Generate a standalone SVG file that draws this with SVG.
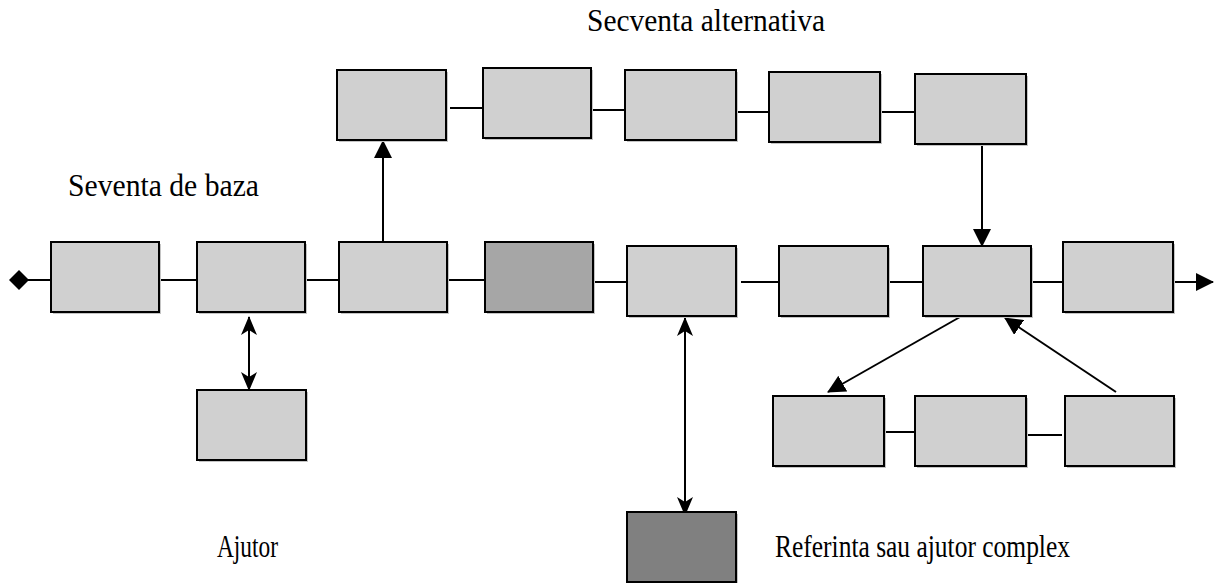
<svg xmlns="http://www.w3.org/2000/svg" width="1214" height="583" viewBox="0 0 1214 583">
<style>
.b{fill:#d0d0d0;stroke:#000;stroke-width:2}
.d1{fill:#a6a6a6;stroke:#000;stroke-width:2}
.d2{fill:#808080;stroke:#000;stroke-width:2}
.sh{fill:#c4c4c4}
.c{stroke:#000;stroke-width:2;fill:none}
.t{font-family:"Liberation Serif","Times New Roman",serif;font-size:31px;fill:#000}
</style>
<defs>
<marker id="ah" viewBox="0 0 18 18" refX="17" refY="9" markerWidth="18" markerHeight="18" markerUnits="userSpaceOnUse" orient="auto">
<path d="M0,0 L18,9 L0,18 Z" fill="#000"/>
</marker>
<marker id="ahs" viewBox="0 0 19 16" refX="18" refY="8" markerWidth="19" markerHeight="16" markerUnits="userSpaceOnUse" orient="auto-start-reverse">
<path d="M0,0 L19,8 L0,16 L5,8 Z" fill="#000"/>
</marker>
<marker id="dm" viewBox="0 0 20 20" refX="10" refY="10" markerWidth="20" markerHeight="20" markerUnits="userSpaceOnUse" orient="auto">
<path d="M0,10 L10,0 L20,10 L10,20 Z" fill="#000"/>
</marker>
</defs>
<g id="connectors">
<line class="c" x1="19" y1="280" x2="51" y2="280" marker-start="url(#dm)"/>
<line class="c" x1="159" y1="280" x2="197" y2="280"/>
<line class="c" x1="303" y1="280" x2="339" y2="280"/>
<line class="c" x1="447" y1="280" x2="485" y2="280"/>
<line class="c" x1="591" y1="282" x2="627" y2="282"/>
<line class="c" x1="741" y1="282" x2="779" y2="282"/>
<line class="c" x1="888" y1="282" x2="923" y2="282"/>
<line class="c" x1="1029" y1="282" x2="1066" y2="282"/>
<line class="c" x1="1173" y1="282" x2="1213" y2="282" marker-end="url(#ah)"/>
<line class="c" x1="450" y1="108" x2="486" y2="108"/>
<line class="c" x1="591" y1="110" x2="625" y2="110"/>
<line class="c" x1="733" y1="112" x2="769" y2="112"/>
<line class="c" x1="880" y1="112" x2="915" y2="112"/>
<line class="c" x1="383" y1="242" x2="383" y2="141" marker-end="url(#ah)"/>
<line class="c" x1="982" y1="144" x2="982" y2="246" marker-end="url(#ah)"/>
<line class="c" x1="249" y1="317" x2="249" y2="390" marker-start="url(#ahs)" marker-end="url(#ahs)"/>
<line class="c" x1="685" y1="318" x2="685" y2="515" marker-start="url(#ahs)" marker-end="url(#ahs)"/>
<line class="c" x1="960" y1="317" x2="828" y2="392" marker-end="url(#ah)"/>
<line class="c" x1="1116" y1="392" x2="1005" y2="318" marker-end="url(#ah)"/>
<line class="c" x1="884" y1="432" x2="920" y2="432"/>
<line class="c" x1="1026" y1="435" x2="1062" y2="435"/>
</g>
<g id="n1"><rect class="sh" x="53" y="244" width="108" height="70"/><rect class="b" x="51" y="242" width="108" height="70"/></g>
<g id="n2"><rect class="sh" x="199" y="244" width="108" height="70"/><rect class="b" x="197" y="242" width="108" height="70"/></g>
<g id="n3"><rect class="sh" x="341" y="244" width="108" height="70"/><rect class="b" x="339" y="242" width="108" height="70"/></g>
<g id="n4"><rect class="sh" x="487" y="244" width="108" height="70"/><rect class="d1" x="485" y="242" width="108" height="70"/></g>
<g id="n5"><rect class="sh" x="629" y="248" width="109" height="70"/><rect class="b" x="627" y="246" width="109" height="70"/></g>
<g id="n6"><rect class="sh" x="781" y="248" width="109" height="70"/><rect class="b" x="779" y="246" width="109" height="70"/></g>
<g id="n7"><rect class="sh" x="925" y="248" width="108" height="70"/><rect class="b" x="923" y="246" width="108" height="70"/></g>
<g id="n8"><rect class="sh" x="1065" y="244" width="110" height="70"/><rect class="b" x="1063" y="242" width="110" height="70"/></g>
<g id="t1"><rect class="sh" x="339" y="72" width="109" height="70"/><rect class="b" x="337" y="70" width="109" height="70"/></g>
<g id="t2"><rect class="sh" x="485" y="70" width="108" height="70"/><rect class="b" x="483" y="68" width="108" height="70"/></g>
<g id="t3"><rect class="sh" x="627" y="72" width="111" height="70"/><rect class="b" x="625" y="70" width="111" height="70"/></g>
<g id="t4"><rect class="sh" x="771" y="74" width="111" height="70"/><rect class="b" x="769" y="72" width="111" height="70"/></g>
<g id="t5"><rect class="sh" x="917" y="76" width="111" height="70"/><rect class="b" x="915" y="74" width="111" height="70"/></g>
<g id="ajutor"><rect class="sh" x="199" y="392" width="109" height="70"/><rect class="b" x="197" y="390" width="109" height="70"/></g>
<g id="dark"><rect class="sh" x="629" y="514" width="109" height="70"/><rect class="d2" x="627" y="512" width="109" height="70"/></g>
<g id="r1"><rect class="sh" x="775" y="398" width="111" height="70"/><rect class="b" x="773" y="396" width="111" height="70"/></g>
<g id="r2"><rect class="sh" x="917" y="398" width="111" height="70"/><rect class="b" x="915" y="396" width="111" height="70"/></g>
<g id="r3"><rect class="sh" x="1067" y="398" width="109" height="70"/><rect class="b" x="1065" y="396" width="109" height="70"/></g>
<g id="labels">
<text class="t" x="587" y="31" textLength="238" lengthAdjust="spacingAndGlyphs">Secventa alternativa</text>
<text class="t" x="68" y="196" textLength="191" lengthAdjust="spacingAndGlyphs">Seventa de baza</text>
<text class="t" x="217" y="557" textLength="61" lengthAdjust="spacingAndGlyphs">Ajutor</text>
<text class="t" x="775" y="557" textLength="295" lengthAdjust="spacingAndGlyphs">Referinta sau ajutor complex</text>
</g>
</svg>
